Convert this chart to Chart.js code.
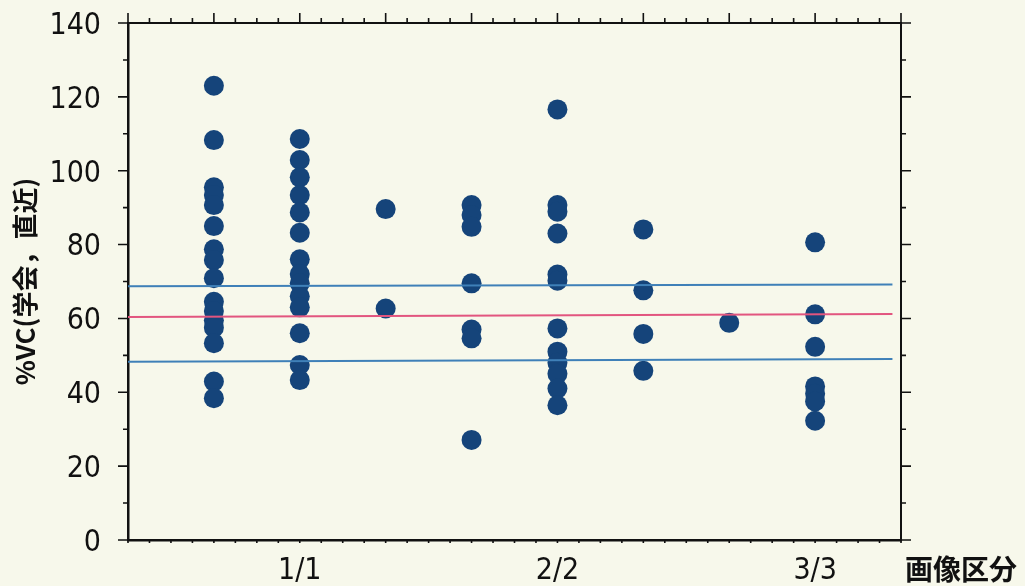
<!DOCTYPE html>
<html>
<head>
<meta charset="utf-8">
<script src="https://cdn.jsdelivr.net/npm/chart.js@4.4.1/dist/chart.umd.min.js"></script>
<style>
  body { margin: 0; background: #f7f8eb; }
  #wrap { width: 1025px; height: 586px; }
</style>
</head>
<body>
<div id="wrap"><canvas id="myChart" width="1025" height="586"></canvas></div>
<script>
// columns on the x axis (only some carry a label)
const groupX = [1, 2, 3, 4, 5, 6, 7, 8];
const groupLabels = ['', '1/1', '', '', '2/2', '', '', '3/3'];

// %VC values per column
const vc1 = [123, 108.3, 95.5, 93.4, 90.7, 85, 78.7, 75.8, 70.9, 64.5, 62, 59.5, 57.5, 53.3, 42.9, 38.4];
const vc2 = [108.6, 102.9, 98.2, 93.4, 88.7, 83.2, 76, 72, 69.5, 66, 63, 56, 47.4, 43.3];
const vc3 = [89.6, 62.7];
const vc4 = [90.7, 88, 84.8, 69.5, 57, 54.6, 27.1];
const vc5 = [116.6, 90.7, 88.9, 83, 71.9, 70.2, 57.3, 51, 48, 45, 41, 36.5];
const vc6 = [84.1, 67.6, 55.8, 45.8];
const vc7 = [58.8];
const vc8 = [80.6, 61.1, 52.3, 41.6, 39.6, 37.5, 32.3];
const columns = [vc1, vc2, vc3, vc4, vc5, vc6, vc7, vc8];

// reference lines (left end, right end)
const lineX = [0, 8.9];
const upperLine = [68.7, 69.2];
const meanLine = [60.4, 61.2];
const lowerLine = [48.3, 49.0];

const yTicks = [0, 20, 40, 60, 80, 100, 120, 140];

const points = [];
columns.forEach(function (col, i) {
    col.forEach(function (v) { points.push({ x: groupX[i], y: v }); });
});

function refLine(vals, color) {
    return {
        data: lineX.map(function (x, i) { return { x: x, y: vals[i] }; }),
        showLine: true,
        borderColor: color,
        borderWidth: 2,
        pointRadius: 0,
        order: 0
    };
}

// no extra label padding around the plot box
function noPad(s) {
    s.paddingTop = 0; s.paddingBottom = 0; s.paddingLeft = 0; s.paddingRight = 0;
}

const numFont = { family: '"Liberation Sans Narrow", "Arial Narrow", "DejaVu Sans Condensed", sans-serif', size: 30 };

const frameTicks = {
    id: 'frameTicks',
    afterDraw(chart) {
        const { ctx, chartArea: a, scales: { x, y } } = chart;
        ctx.save();
        ctx.strokeStyle = '#111';
        ctx.lineWidth = 1.6;
        ctx.beginPath();
        for (let v = 0; v <= 140; v += 10) {
            const py = y.getPixelForValue(v);
            const len = v % 20 === 0 ? 10 : 5;
            ctx.moveTo(a.left, py); ctx.lineTo(a.left - len, py);
            ctx.moveTo(a.right, py); ctx.lineTo(a.right + len, py);
        }
        for (let v = 0; v <= 9; v += 0.25) {
            const px = x.getPixelForValue(v);
            ctx.moveTo(px, a.top); ctx.lineTo(px, a.top - (Number.isInteger(v) ? 10 : 5));
            ctx.moveTo(px, a.bottom); ctx.lineTo(px, a.bottom + 3);
        }
        ctx.stroke();
        ctx.fillStyle = '#111';
        ctx.font = 'bold 28px "Noto Sans CJK JP"';
        ctx.textBaseline = 'alphabetic';
        ctx.fillText('画像区分', a.right + 4, 580);
        ctx.restore();
    }
};

const ctxEl = document.getElementById('myChart');
const myChart = new Chart(ctxEl, {
    type: 'scatter',
    data: {
        datasets: [
            refLine(upperLine, '#3f80b8'),
            refLine(meanLine, '#e2557f'),
            refLine(lowerLine, '#3f80b8'),
            {
                data: points,
                backgroundColor: '#15447a',
                borderWidth: 0,
                pointRadius: 10,
                order: 1
            }
        ]
    },
    options: {
        responsive: false,
        devicePixelRatio: 1,
        animation: false,
        layout: { padding: 0 },
        plugins: { legend: { display: false }, tooltip: { enabled: false } },
        scales: {
            x: {
                type: 'linear',
                position: 'bottom',
                min: 0,
                max: 9,
                afterFit: function (s) { s.height = 46; noPad(s); },
                grid: { display: false },
                border: { display: true, color: '#111', width: 2.5 },
                ticks: {
                    stepSize: 1,
                    autoSkip: false,
                    maxRotation: 0,
                    padding: 5,
                    color: '#111',
                    font: numFont,
                    callback: function (v) { return groupLabels[groupX.indexOf(v)] || ''; }
                }
            },
            xTop: {
                type: 'linear',
                position: 'top',
                min: 0,
                max: 9,
                afterFit: function (s) { s.height = 23; noPad(s); },
                grid: { display: false },
                border: { display: true, color: '#111', width: 2 },
                ticks: { display: false }
            },
            y: {
                position: 'left',
                min: 0,
                max: 140,
                afterFit: function (s) { s.width = 128; noPad(s); },
                afterBuildTicks: function (s) { s.ticks = yTicks.map(function (v) { return { value: v }; }); },
                grid: { display: false },
                border: { display: true, color: '#111', width: 2.5 },
                ticks: { padding: 19, labelOffset: 3, color: '#111', font: numFont },
                title: {
                    display: true,
                    text: '%VC(学会，直近)',
                    color: '#111',
                    font: { family: '"Noto Sans CJK JP"', size: 26, weight: 'bold' },
                    padding: { top: 10, bottom: 0 }
                }
            },
            yRight: {
                position: 'right',
                min: 0,
                max: 140,
                afterFit: function (s) { s.width = 124; noPad(s); },
                grid: { display: false },
                border: { display: true, color: '#111', width: 2 },
                ticks: { display: false }
            }
        }
    },
    plugins: [frameTicks]
});
</script>
</body>
</html>
